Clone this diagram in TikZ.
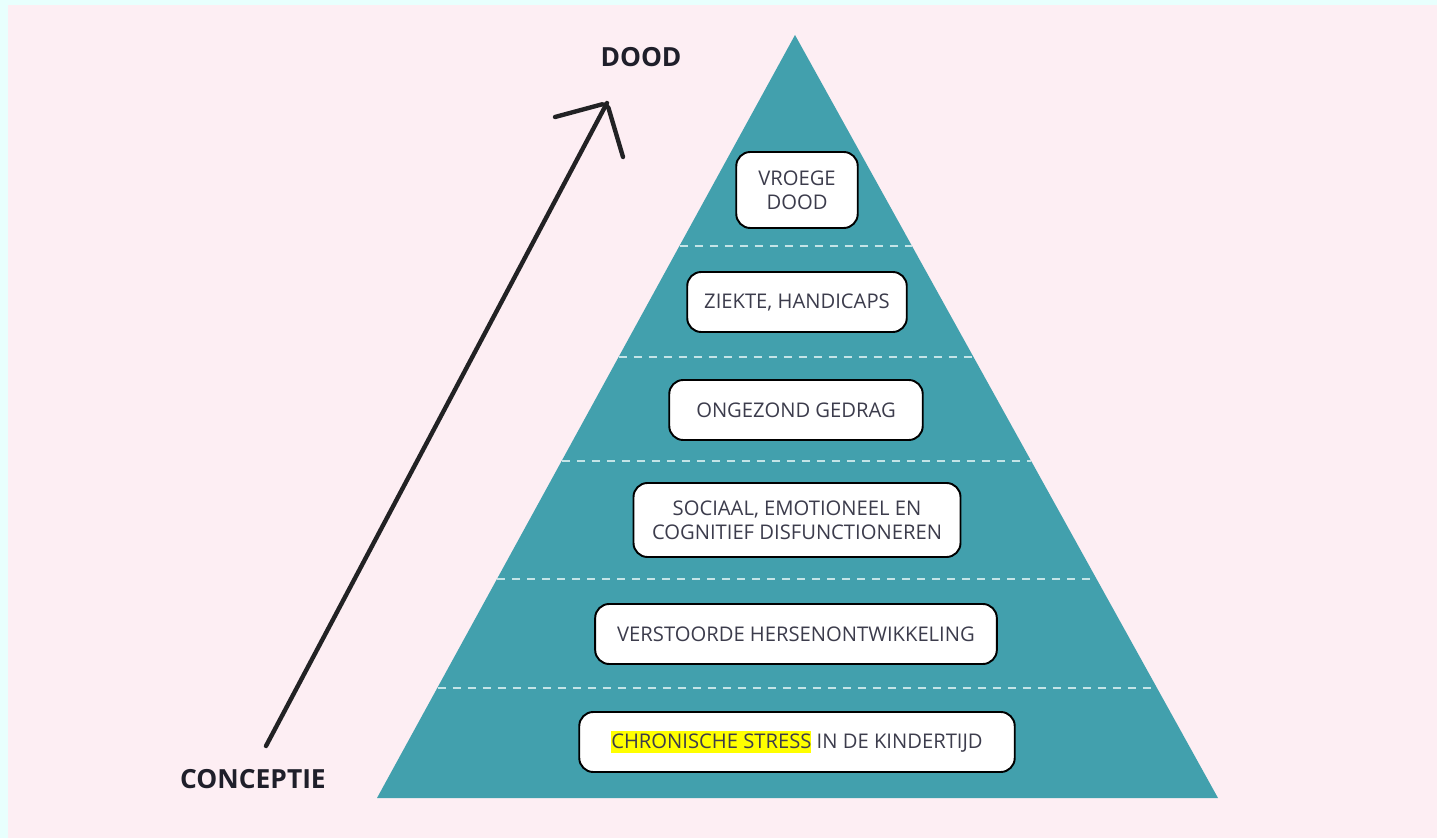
\documentclass[tikz,border=0pt]{standalone}
\usepackage{fontspec}
\setmainfont{Open Sans}
\usepackage{tikz}
\usetikzlibrary{arrows.meta,positioning,calc}
\usepackage{xcolor}
\definecolor{framecolor}{RGB}{232,255,253}
\definecolor{papercolor}{RGB}{253,238,243}
\definecolor{pyramidcolor}{RGB}{66,160,173}
\definecolor{dashcolor}{RGB}{196,228,231}
\definecolor{boxtext}{RGB}{60,60,76}
\definecolor{labeltext}{RGB}{31,31,42}
\definecolor{pencolor}{RGB}{34,34,36}
\definecolor{markcolor}{RGB}{255,255,0}
\newcommand{\marked}[1]{{\setlength{\fboxsep}{0pt}\colorbox{markcolor}{\rule[-0.22em]{0pt}{1.08em}#1}}}

\begin{document}
\begin{tikzpicture}[every node/.style={font=\fontsize{11.5}{13.8}\selectfont}]
        \tikzset{
          stage/.style={draw=black,line width=1.1pt,fill=white,rounded corners=0.28cm,
            text=boxtext,align=center,inner xsep=0.42cm,minimum height=1.2cm},
          level/.style={draw=dashcolor,line width=1.1pt,dash pattern=on 0.16cm off 0.14cm},
          axislabel/.style={font=\fontsize{15}{18}\selectfont\bfseries,text=labeltext}
        }
        \useasboundingbox (0,0) rectangle (28.74,16.76);

        % paper
        \fill[framecolor] (0,0) rectangle (28.74,16.76);
        \fill[papercolor] (0.16,0) rectangle (28.74,16.66);

        % pyramid
        \fill[pyramidcolor] (15.90,16.06) -- (7.54,0.80) -- (24.36,0.80) -- cycle;

        % dashed level separators
        \draw[level] (13.59,11.84) -- (18.24,11.84);
        \draw[level] (12.37,9.62) -- (19.47,9.62);
        \draw[level] (11.23,7.54) -- (20.62,7.54);
        \draw[level] (9.94,5.18) -- (21.93,5.18);
        \draw[level] (8.75,3.00) -- (23.14,3.00);

        % stages, top to bottom
        \node[stage,inner xsep=0.44cm,minimum height=1.52cm] (death) at (15.94,12.96) {VROEGE\\DOOD};
        \node[stage,inner xsep=0.34cm] (disease) at (15.94,10.72) {ZIEKTE, HANDICAPS};
        \node[stage,inner xsep=0.54cm] (behaviour) at (15.92,8.56) {ONGEZOND GEDRAG};
        \node[stage,inner xsep=0.37cm,minimum height=1.48cm] (social) at (15.94,6.36)
          {SOCIAAL, EMOTIONEEL EN\\COGNITIEF DISFUNCTIONEREN};
        \node[stage,inner xsep=0.44cm] (brain) at (15.92,4.08) {VERSTOORDE HERSENONTWIKKELING};
        \node[stage,inner xsep=0.64cm] (stress) at (15.94,1.92) {\marked{CHRONISCHE STRESS} IN DE KINDERTIJD};

        % life axis
        \node[axislabel] (conception) at (5.06,1.18) {CONCEPTIE};
        \node[axislabel] (end) at (12.82,15.62) {DOOD};
        \coordinate (axisstart) at (5.32,1.84);
        \coordinate (axistip) at (12.14,14.70);
        \coordinate (barbleft) at (11.10,14.42);
        \coordinate (barbright) at (12.46,13.62);
        \draw[line width=2.5pt,pencolor,line cap=round] (axisstart) -- (axistip);
        \draw[line width=2.5pt,pencolor,line cap=round,line join=round,rounded corners=3pt]
          (barbleft) -- (axistip) -- (barbright);
      \end{tikzpicture}
\end{document}
